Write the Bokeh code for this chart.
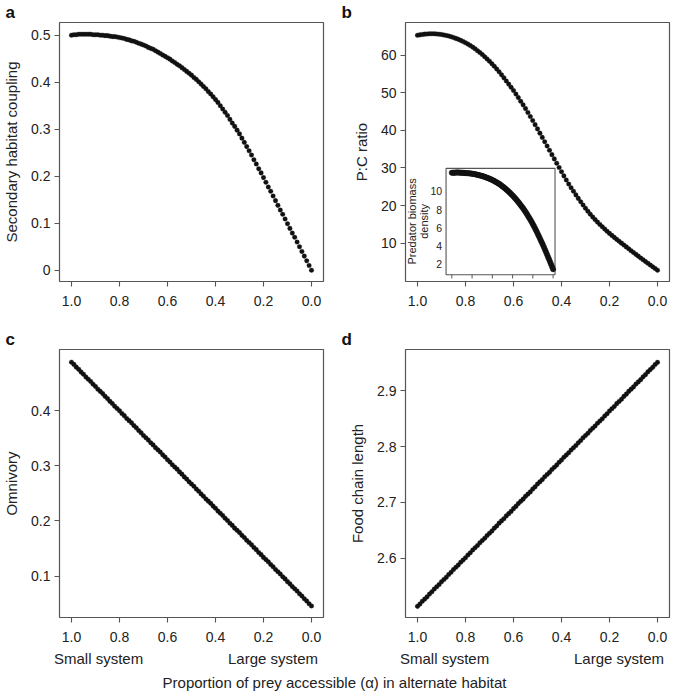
from math import pi
from bokeh.plotting import figure
from bokeh.models import Range1d, FixedTicker, Div, ColumnDataSource, NumeralTickFormatter
from bokeh.layouts import column, row
from bokeh.embed import file_html
from bokeh.resources import INLINE
from bokeh.core.properties import value

FONT = "Liberation Sans"

# ---------------- data ----------------
alpha = [1.00, 0.99, 0.98, 0.97, 0.96, 0.95, 0.94, 0.93, 0.92, 0.91,
         0.90, 0.89, 0.88, 0.87, 0.86, 0.85, 0.84, 0.83, 0.82, 0.81,
         0.80, 0.79, 0.78, 0.77, 0.76, 0.75, 0.74, 0.73, 0.72, 0.71,
         0.70, 0.69, 0.68, 0.67, 0.66, 0.65, 0.64, 0.63, 0.62, 0.61,
         0.60, 0.59, 0.58, 0.57, 0.56, 0.55, 0.54, 0.53, 0.52, 0.51,
         0.50, 0.49, 0.48, 0.47, 0.46, 0.45, 0.44, 0.43, 0.42, 0.41,
         0.40, 0.39, 0.38, 0.37, 0.36, 0.35, 0.34, 0.33, 0.32, 0.31,
         0.30, 0.29, 0.28, 0.27, 0.26, 0.25, 0.24, 0.23, 0.22, 0.21,
         0.20, 0.19, 0.18, 0.17, 0.16, 0.15, 0.14, 0.13, 0.12, 0.11,
         0.10, 0.09, 0.08, 0.07, 0.06, 0.05, 0.04, 0.03, 0.02, 0.01,
         0.00]

coupling = [0.500, 0.501, 0.501, 0.502, 0.502, 0.502, 0.502, 0.502, 0.502, 0.501,
            0.501, 0.501, 0.500, 0.500, 0.499, 0.499, 0.498, 0.497, 0.497, 0.496,
            0.495, 0.494, 0.493, 0.491, 0.490, 0.488, 0.487, 0.485, 0.483, 0.481,
            0.479, 0.477, 0.474, 0.472, 0.470, 0.467, 0.464, 0.461, 0.458, 0.455,
            0.452, 0.449, 0.445, 0.442, 0.438, 0.435, 0.431, 0.427, 0.423, 0.419,
            0.415, 0.410, 0.406, 0.401, 0.396, 0.391, 0.386, 0.380, 0.375, 0.369,
            0.363, 0.357, 0.350, 0.343, 0.336, 0.329, 0.321, 0.313, 0.306, 0.298,
            0.290, 0.281, 0.272, 0.263, 0.254, 0.245, 0.235, 0.226, 0.216, 0.207,
            0.197, 0.187, 0.177, 0.168, 0.158, 0.148, 0.138, 0.128, 0.119, 0.109,
            0.099, 0.089, 0.079, 0.070, 0.060, 0.050, 0.040, 0.030, 0.020, 0.010,
            0.000]

pc_ratio = [65.30, 65.42, 65.52, 65.60, 65.66, 65.70, 65.71, 65.70, 65.66, 65.59,
            65.50, 65.39, 65.26, 65.11, 64.92, 64.70, 64.47, 64.22, 63.95, 63.64,
            63.30, 62.95, 62.57, 62.15, 61.70, 61.20, 60.70, 60.17, 59.60, 59.01,
            58.40, 57.74, 57.05, 56.33, 55.58, 54.80, 53.98, 53.15, 52.31, 51.46,
            50.60, 49.67, 48.72, 47.76, 46.79, 45.80, 44.76, 43.70, 42.62, 41.52,
            40.40, 39.27, 38.13, 36.99, 35.85, 34.70, 33.55, 32.41, 31.27, 30.14,
            29.00, 27.89, 26.80, 25.74, 24.75, 23.80, 22.84, 21.91, 21.02, 20.14,
            19.30, 18.48, 17.70, 16.97, 16.27, 15.60, 14.96, 14.35, 13.76, 13.17,
            12.60, 12.06, 11.53, 11.01, 10.50, 10.00, 9.50, 9.00, 8.50, 8.00,
            7.50, 7.02, 6.54, 6.06, 5.58, 5.10, 4.64, 4.18, 3.72, 3.26,
            2.80]

predator = [12.04, 12.05, 12.06, 12.06, 12.07, 12.07, 12.07, 12.07, 12.06, 12.06,
            12.05, 12.04, 12.03, 12.02, 12.01, 12.00, 11.99, 11.98, 11.97, 11.96,
            11.94, 11.92, 11.90, 11.88, 11.86, 11.83, 11.80, 11.77, 11.75, 11.72,
            11.68, 11.65, 11.61, 11.57, 11.53, 11.49, 11.45, 11.40, 11.35, 11.30,
            11.25, 11.19, 11.13, 11.07, 11.01, 10.94, 10.87, 10.80, 10.72, 10.64,
            10.55, 10.47, 10.38, 10.29, 10.19, 10.09, 9.99, 9.88, 9.78, 9.66,
            9.55, 9.43, 9.30, 9.18, 9.05, 8.91, 8.78, 8.64, 8.49, 8.35,
            8.20, 8.04, 7.88, 7.71, 7.53, 7.35, 7.17, 6.99, 6.80, 6.60,
            6.40, 6.19, 5.97, 5.75, 5.53, 5.30, 5.07, 4.83, 4.59, 4.35,
            4.10, 3.85, 3.59, 3.33, 3.07, 2.80, 2.54, 2.27, 2.00, 1.72,
            1.45]

omnivory = [0.488, 0.484, 0.479, 0.475, 0.470, 0.466, 0.461, 0.457, 0.453, 0.448,
            0.444, 0.439, 0.435, 0.431, 0.426, 0.422, 0.417, 0.413, 0.408, 0.404,
            0.400, 0.395, 0.391, 0.386, 0.382, 0.378, 0.373, 0.369, 0.364, 0.360,
            0.355, 0.351, 0.347, 0.342, 0.338, 0.333, 0.329, 0.325, 0.320, 0.316,
            0.311, 0.307, 0.302, 0.298, 0.294, 0.289, 0.285, 0.280, 0.276, 0.271,
            0.267, 0.263, 0.258, 0.254, 0.249, 0.245, 0.240, 0.236, 0.232, 0.227,
            0.223, 0.218, 0.214, 0.210, 0.205, 0.201, 0.196, 0.192, 0.187, 0.183,
            0.179, 0.174, 0.170, 0.165, 0.161, 0.157, 0.152, 0.148, 0.143, 0.139,
            0.134, 0.130, 0.126, 0.121, 0.117, 0.112, 0.108, 0.104, 0.099, 0.095,
            0.090, 0.086, 0.081, 0.077, 0.073, 0.068, 0.064, 0.059, 0.055, 0.050,
            0.046]

chain_length = [2.514, 2.518, 2.523, 2.527, 2.531, 2.536, 2.540, 2.545, 2.549, 2.553,
                2.558, 2.562, 2.566, 2.571, 2.575, 2.580, 2.584, 2.588, 2.593, 2.597,
                2.601, 2.606, 2.610, 2.615, 2.619, 2.623, 2.628, 2.632, 2.636, 2.641,
                2.645, 2.649, 2.654, 2.658, 2.663, 2.667, 2.671, 2.676, 2.680, 2.684,
                2.689, 2.693, 2.698, 2.702, 2.706, 2.711, 2.715, 2.719, 2.724, 2.728,
                2.733, 2.737, 2.741, 2.746, 2.750, 2.754, 2.759, 2.763, 2.767, 2.772,
                2.776, 2.781, 2.785, 2.789, 2.794, 2.798, 2.802, 2.807, 2.811, 2.816,
                2.820, 2.824, 2.829, 2.833, 2.837, 2.842, 2.846, 2.850, 2.855, 2.859,
                2.864, 2.868, 2.872, 2.877, 2.881, 2.885, 2.890, 2.894, 2.899, 2.903,
                2.907, 2.912, 2.916, 2.920, 2.925, 2.929, 2.934, 2.938, 2.942, 2.947,
                2.951]

x_ticks = [1.0, 0.8, 0.6, 0.4, 0.2, 0.0]
ticks_a = [0.0, 0.1, 0.2, 0.3, 0.4, 0.5]
ticks_b = [10, 20, 30, 40, 50, 60]
ticks_c = [0.1, 0.2, 0.3, 0.4]
ticks_d = [2.6, 2.7, 2.8, 2.9]
ticks_inset = [2, 4, 6, 8, 10]

x_label = "Proportion of prey accessible (\u03b1) in alternate habitat"
system_labels = ["Small system", "Large system"]

FRAME_COL = "#555555"
TEXT_COL = "#222222"
DOT_COL = "#111111"
FW = 264


def make_panel(letter, yvals, yrange, yticks, yfmt, ylabel, left, right, bottom, fh):
    p = figure(frame_width=FW, frame_height=fh,
               min_border_left=left, min_border_right=right,
               min_border_top=18, min_border_bottom=bottom,
               x_range=Range1d(1.05, -0.05), y_range=Range1d(*yrange),
               output_backend="svg", toolbar_location=None, tools="")
    p.title.text = letter
    p.title.align = "left"
    p.title.offset = -left
    p.title.text_font = FONT
    p.title.text_font_size = "17px"
    p.title.text_font_style = "bold"
    p.title.text_color = "#111111"
    p.title.standoff = 1
    p.grid.visible = False
    p.outline_line_color = FRAME_COL
    p.outline_line_width = 1.2
    p.background_fill_color = "white"
    p.border_fill_color = "white"
    for ax in (p.xaxis[0], p.yaxis[0]):
        ax.axis_line_color = None
        ax.major_tick_line_color = FRAME_COL
        ax.major_tick_line_width = 1.1
        ax.major_tick_out = 5
        ax.major_tick_in = 0
        ax.minor_tick_line_color = None
        ax.major_label_text_font = FONT
        ax.major_label_text_font_size = "14px"
        ax.major_label_text_color = TEXT_COL
        ax.major_label_standoff = 4
    p.xaxis.major_label_standoff = 9
    p.xaxis.ticker = FixedTicker(ticks=x_ticks)
    p.xaxis.formatter = NumeralTickFormatter(format="0.0")
    p.yaxis.ticker = FixedTicker(ticks=yticks)
    p.yaxis.formatter = NumeralTickFormatter(format=yfmt)
    p.yaxis.axis_label = ylabel
    p.yaxis.axis_label_text_font = FONT
    p.yaxis.axis_label_text_font_size = "15px"
    p.yaxis.axis_label_text_font_style = "normal"
    p.yaxis.axis_label_text_color = TEXT_COL
    p.yaxis.axis_label_standoff = 8

    src = ColumnDataSource(dict(x=alpha, y=yvals))
    p.scatter("x", "y", source=src, size=4.6, marker="circle",
              fill_color=DOT_COL, line_color=DOT_COL, line_width=0.3)
    return p


pa = make_panel("a", coupling, (-0.024, 0.527), ticks_a, "0.[0]", "Secondary habitat coupling",
                54, 18, 46, 259)
pb = make_panel("b", pc_ratio, (-0.2, 68.7), ticks_b, "0", "P:C ratio",
                64, 5, 46, 259)
pc = make_panel("c", omnivory, (0.025, 0.511), ticks_c, "0.0", "Omnivory",
                54, 18, 33, 268)
pd_ = make_panel("d", chain_length, (2.494, 2.974), ticks_d, "0.0", "Food chain length",
                 64, 5, 33, 268)

# ---------------- inset in panel b ----------------
in_x = Range1d(1.057, -0.019)
in_y = Range1d(0.84, 12.53)
sub = pb.subplot(x_source=in_x, y_source=in_y,
                 x_target=Range1d(0.881, 0.427), y_target=Range1d(1.59, 29.9))
sub.quad(left=[in_x.start], right=[in_x.end], bottom=[in_y.start], top=[in_y.end],
         fill_color="white", line_color=FRAME_COL, line_width=1.1)
sub.segment(x0=x_ticks, x1=x_ticks, y0=[in_y.start] * len(x_ticks),
            y1=[in_y.start - 0.4] * len(x_ticks), line_color=FRAME_COL, line_width=1)
sub.text(x=[in_x.start] * len(ticks_inset), y=ticks_inset,
         text=[str(t) for t in ticks_inset], x_offset=-4,
         text_align="right", text_baseline="middle",
         text_font=value(FONT), text_font_size="10.5px", text_color=TEXT_COL)
sub.text(x=[in_x.start], y=[6.7], text=["Predator biomass"], x_offset=-34, angle=pi / 2,
         text_align="center", text_baseline="middle",
         text_font=value(FONT), text_font_size="11px", text_color=TEXT_COL)
sub.text(x=[in_x.start], y=[6.7], text=["density"], x_offset=-22, angle=pi / 2,
         text_align="center", text_baseline="middle",
         text_font=value(FONT), text_font_size="11px", text_color=TEXT_COL)
in_src = ColumnDataSource(dict(x=alpha, y=predator))
sub.scatter("x", "y", source=in_src, size=5.5, marker="circle",
            fill_color=DOT_COL, line_color=DOT_COL, line_width=0.3)


def system_div(left, right):
    html = ('<div style="display:flex;justify-content:space-between;'
            f'margin-left:{left}px;width:{FW}px;'
            "font-family:'Liberation Sans';font-size:15px;color:#222222;line-height:17px;\">"
            f'<span>{system_labels[0]}</span><span>{system_labels[1]}</span></div>')
    return Div(text=html, width=left + FW + right, height=17, margin=0)


sys_row = row(system_div(54, 18), system_div(64, 5))

xdiv = Div(text=('<div style="width:669px;text-align:center;font-family:\'Liberation Sans\';'
                 'font-size:15px;color:#222222;line-height:32px;">' + x_label + '</div>'),
           width=669, height=32, margin=0)

layout = column(row(pa, pb), row(pc, pd_), sys_row, xdiv)

with open("out.html", "w") as f:
    f.write(file_html(layout, INLINE))
